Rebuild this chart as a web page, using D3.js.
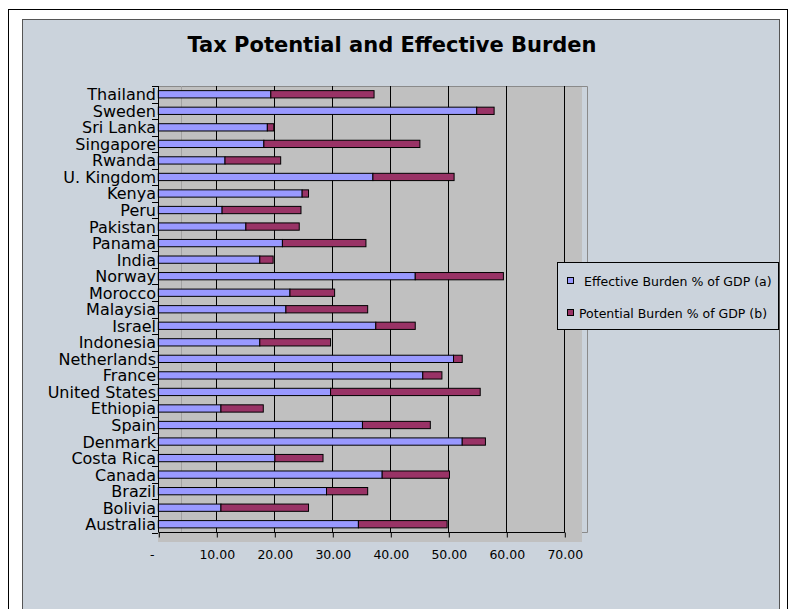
<!DOCTYPE html>
<html>
<head>
<meta charset="utf-8">
<script src="https://cdn.jsdelivr.net/npm/d3@7"></script>
<style>
  body { margin: 0; background: #fff; }
  svg { display: block; }
  text { font-family: "DejaVu Sans", "Liberation Sans", Arial, sans-serif; fill: #000; }
</style>
</head>
<body>
<div id="grafica"></div>
<script>
// datos (de arriba hacia abajo)
const countries = ["Thailand", "Sweden", "Sri Lanka", "Singapore", "Rwanda", "U. Kingdom", "Kenya", "Peru",
  "Pakistan", "Panama", "India", "Norway", "Morocco", "Malaysia", "Israel", "Indonesia", "Netherlands",
  "France", "United States", "Ethiopia", "Spain", "Denmark", "Costa Rica", "Canada", "Brazil", "Bolivia", "Australia"];
const effective = [19.4, 54.9, 18.8, 18.2, 11.5, 37.0, 24.8, 11.0, 15.1, 21.4, 17.5, 44.3, 22.7, 22.0, 37.5,
  17.5, 50.9, 45.6, 29.7, 10.8, 35.2, 52.4, 20.1, 38.6, 29.0, 10.8, 34.5];
const potential = [37.2, 57.9, 19.9, 45.1, 21.1, 51.0, 25.9, 24.6, 24.3, 35.8, 19.8, 59.5, 30.4, 36.1, 44.3,
  29.7, 52.4, 48.9, 55.5, 18.1, 46.9, 56.4, 28.4, 50.2, 36.1, 25.9, 49.8];
const xTicks = [0, 10, 20, 30, 40, 50, 60, 70];
const seriesNames = ["Effective Burden % of GDP (a)", "Potential Burden % of GDP (b)"];
const colors = ["#9999ff", "#993366"];

const W = 793, H = 609;
const plot = { left: 158, top: 86, right: 582, bottom: 532.5 };

const svg = d3.select("#grafica").append("svg")
  .attr("width", W)
  .attr("height", H);

// marcos
svg.append("rect")
  .attr("x", 8.5).attr("y", 9.5).attr("width", 779).attr("height", 620)
  .attr("fill", "#fff").attr("stroke", "#000");
svg.append("rect")
  .attr("x", 22.5).attr("y", 19.5).attr("width", 757).attr("height", 620)
  .attr("fill", "#cbd3dc").attr("stroke", "#555");

// titulo
svg.append("text")
  .attr("x", 392).attr("y", 52)
  .attr("text-anchor", "middle")
  .style("font-size", "21px")
  .style("font-weight", "bold")
  .text("Tax Potential and Effective Burden");

// escalas
const x = d3.scaleLinear().domain([0, 70]).range([158.3, 564.3]);
const y = d3.scaleBand().domain(countries)
  .range([plot.top, plot.bottom])
  .paddingInner(0.56).paddingOuter(0.28);

// area de la grafica (pared gris)
svg.append("rect")
  .attr("x", plot.left).attr("y", plot.top)
  .attr("width", plot.right - plot.left).attr("height", 542 - plot.top)
  .attr("fill", "#c0c0c0");
svg.append("path")
  .attr("d", `M${plot.left},86.5 H587.5 V532.5 H582`)
  .attr("fill", "none").attr("stroke", "#8a8a8a");
svg.append("line")
  .attr("x1", 181.5).attr("x2", 181.5).attr("y1", 86).attr("y2", 532)
  .attr("stroke", "#a2a2a2");

// lineas de cuadricula
svg.append("g").selectAll("line")
  .data(xTicks.slice(1)).enter()
  .append("line")
  .attr("x1", d => Math.round(x(d)) + 0.5).attr("x2", d => Math.round(x(d)) + 0.5)
  .attr("y1", plot.top).attr("y2", plot.bottom)
  .attr("stroke", "#000");

// barras
const bars = svg.append("g");
bars.selectAll(".eff")
  .data(countries).enter()
  .append("rect")
  .attr("class", "eff")
  .attr("x", x(0))
  .attr("y", d => y(d))
  .attr("width", (d, i) => x(effective[i]) - x(0))
  .attr("height", y.bandwidth())
  .attr("fill", colors[0])
  .attr("stroke", "#000").attr("stroke-width", 1);
bars.selectAll(".pot")
  .data(countries).enter()
  .append("rect")
  .attr("class", "pot")
  .attr("x", (d, i) => x(effective[i]))
  .attr("y", d => y(d))
  .attr("width", (d, i) => x(potential[i]) - x(effective[i]))
  .attr("height", y.bandwidth())
  .attr("fill", colors[1])
  .attr("stroke", "#000").attr("stroke-width", 1);

// eje X
const xAxis = d3.axisBottom(x)
  .tickValues(xTicks)
  .tickSize(5)
  .tickPadding(13)
  .tickFormat(d => d === 0 ? "-" : d.toFixed(2));
const gx = svg.append("g")
  .attr("transform", `translate(0.5, ${plot.bottom})`)
  .call(xAxis);
gx.select(".domain").remove();
gx.append("line")
  .attr("x1", x(0)).attr("x2", x(70))
  .attr("stroke", "#000");
gx.selectAll(".tick line").attr("stroke", "#000");
gx.selectAll(".tick text")
  .style("font-size", "12.5px")
  .style("font-family", "'DejaVu Sans', sans-serif")
  .attr("fill", "#000")
  .attr("dx", d => d === 0 ? -7 : 0);

// eje Y
const step = y.step();
const gap = (step - y.bandwidth()) / 2;
const bounds = countries.map(c => y(c) - gap).concat([y(countries[countries.length - 1]) + y.bandwidth() + gap]);
svg.append("line")
  .attr("x1", plot.left + 0.5).attr("x2", plot.left + 0.5)
  .attr("y1", plot.top).attr("y2", plot.bottom)
  .attr("stroke", "#000");
svg.append("g").selectAll("line")
  .data(bounds).enter()
  .append("line")
  .attr("x1", plot.left - 6).attr("x2", plot.left)
  .attr("y1", d => Math.round(d) + 0.5).attr("y2", d => Math.round(d) + 0.5)
  .attr("stroke", "#000");
svg.append("g").selectAll("text")
  .data(countries).enter()
  .append("text")
  .attr("x", 156)
  .attr("y", d => y(d) + y.bandwidth() / 2 + 6)
  .attr("text-anchor", "end")
  .style("font-size", "16px")
  .text(d => d);

// leyenda
const legend = svg.append("g");
legend.append("rect")
  .attr("x", 557.5).attr("y", 262.5).attr("width", 221).attr("height", 67)
  .attr("fill", "#cbd3dc").attr("stroke", "#000");
seriesNames.forEach((name, i) => {
  legend.append("rect")
    .attr("x", 567.5).attr("y", 277.5 + i * 32).attr("width", 6).attr("height", 6)
    .attr("fill", colors[i]).attr("stroke", "#000");
  legend.append("text")
    .attr("x", i === 0 ? 584 : 579).attr("y", 285.5 + i * 32)
    .style("font-size", "12.5px")
    .text(name);
});
</script>
</body>
</html>
